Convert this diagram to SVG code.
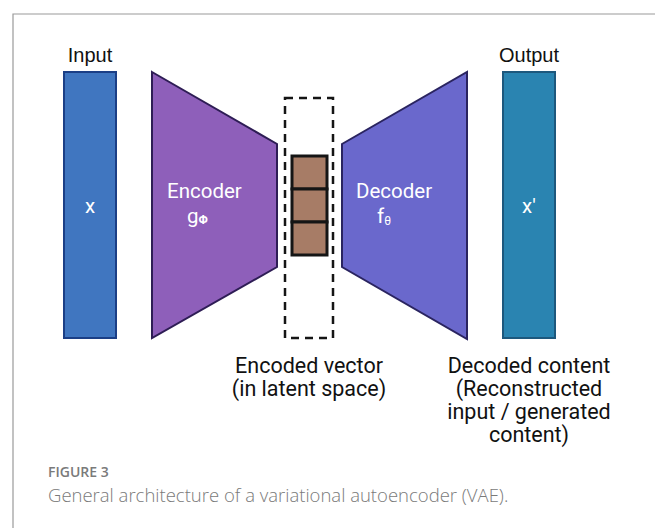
<svg xmlns="http://www.w3.org/2000/svg" width="655" height="528" viewBox="0 0 655 528">
<style>
.lbl{font-family:Roboto,"Liberation Sans",sans-serif;font-size:20.5px;fill:#fff;}
.blk{font-family:Roboto,"Liberation Sans",sans-serif;font-size:21.5px;fill:#111;text-anchor:middle;}
.io{font-family:"Liberation Sans Narrow","Liberation Sans",sans-serif;font-size:20px;fill:#111;text-anchor:middle;}
.cap{font-family:"Open Sans","Noto Sans",sans-serif;fill:#7a7a7a;}
.lat{fill:#a77c66;stroke:#151515;stroke-width:3;}
</style>
<rect width="655" height="528" fill="#fff"/>
<path d="M13 528 V14 H655" fill="none" stroke="#9a9a9a" stroke-width="1.2"/>
<g id="input">
<rect x="64" y="72" width="52" height="266" fill="#4076c0" stroke="#1b3f86" stroke-width="2"/>
<text class="io" x="90" y="62">Input</text>
<text class="lbl" x="90" y="213" text-anchor="middle">x</text>
</g>
<g id="encoder">
<polygon points="152,72 277,144 277,267 152,338" fill="#8e5fba" stroke="#2e1d55" stroke-width="2"/>
<text class="lbl" x="167" y="198">Encoder</text>
<text class="lbl" x="187" y="223">g<tspan font-size="12" font-weight="bold" dy="1">Φ</tspan></text>
</g>
<g id="latent">
<rect x="285" y="98" width="48" height="240" fill="none" stroke="#151515" stroke-width="2.5" stroke-dasharray="8,6"/>
<rect class="lat" x="292" y="156" width="35" height="33"/>
<rect class="lat" x="292" y="189" width="35" height="33"/>
<rect class="lat" x="292" y="222" width="35" height="33"/>
<text class="blk" x="309" y="373">Encoded vector</text>
<text class="blk" x="309" y="396">(in latent space)</text>
</g>
<g id="decoder">
<polygon points="342,144 467,72 467,339 342,267" fill="#6a68cc" stroke="#2a2460" stroke-width="2"/>
<text class="lbl" x="356" y="198">Decoder</text>
<text class="lbl" x="377" y="223">f<tspan font-size="12" dy="2">θ</tspan></text>
</g>
<g id="output">
<rect x="503" y="72" width="52" height="266" fill="#2a84b1" stroke="#1d587d" stroke-width="2"/>
<text class="io" x="529" y="62">Output</text>
<text class="lbl" x="529" y="213" text-anchor="middle">x'</text>
<text class="blk" x="529" y="373">Decoded content</text>
<text class="blk" x="529" y="396">(Reconstructed</text>
<text class="blk" x="529" y="419">input / generated</text>
<text class="blk" x="529" y="442">content)</text>
</g>
<g id="connectors"></g>
<text class="cap" x="48" y="477" font-size="14" font-weight="600">FIGURE 3</text>
<text class="cap" x="48" y="502" font-size="18.5" font-weight="300">General architecture of a variational autoencoder (VAE).</text>
</svg>
